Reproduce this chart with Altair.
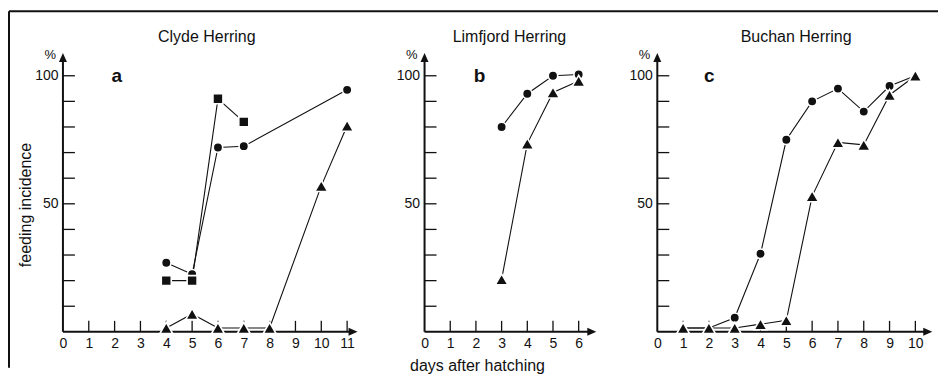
import altair as alt
import pandas as pd

FONT = "Liberation Sans"
INK = "#111111"

# ---------------- data ----------------
# Panel a: Clyde Herring
a_circle_days = [4, 5, 6, 7, 11]
a_circle_vals = [27, 22.5, 72, 72.5, 94.5]
a_square_days = [4, 5, 6, 7]
a_square_vals = [20, 20, 91, 82]
a_tri_days = [4, 5, 6, 7, 8, 10, 11]
a_tri_vals = [1.5, 7, 1.5, 1.5, 1.5, 57, 80.5]

# Panel b: Limfjord Herring
b_circle_days = [3, 4, 5, 6]
b_circle_vals = [80, 93, 100, 100.5]
b_tri_days = [3, 4, 5, 6]
b_tri_vals = [20.5, 73.5, 93.5, 98]

# Panel c: Buchan Herring
c_circle_days = [1, 2, 3, 4, 5, 6, 7, 8, 9, 10]
c_circle_vals = [1.5, 1.5, 5.5, 30.5, 75, 90, 95, 86, 96, 100]
c_circle_hidden = [1, 2, 10]          # markers hidden under the triangles
c_tri_days = [1, 2, 3, 4, 5, 6, 7, 8, 9, 10]
c_tri_vals = [1.5, 1.5, 1.5, 3, 4.5, 53, 74, 73, 92.5, 100]

panel_titles = ["Clyde Herring", "Limfjord Herring", "Buchan Herring"]
panel_letters = ["a", "b", "c"]
x_label_max = [11, 6, 10]
y_labels = [50, 100]
y_minor = [10, 20, 30, 40, 50, 60, 70, 80, 90, 100]
y_title = "feeding incidence"
x_title = "days after hatching"

# ---------------- layout constants ----------------
H = 282
Y_MAX = 110
Y_ARROW = 107.3
SHAPE_SIZE = {"circle": 90, "square": 100, "triangle-up": 165}


def make_panel(width, xmax, arrow_x, tmax, series, title, title_x, letter, letter_x, extras):
    xs = alt.Scale(domain=[0, xmax], nice=False, zero=False)
    ys = alt.Scale(domain=[0, Y_MAX], nice=False, zero=False)
    xaxis = alt.Axis(values=list(range(0, tmax + 1)), domain=False, ticks=False, tickSize=0,
                     grid=False, labelPadding=5, labelFont=FONT, labelFontSize=14,
                     labelColor=INK, title=None, labelFlush=False, labelOverlap=False)
    yaxis = alt.Axis(values=y_labels, domain=False, ticks=False, tickSize=0, grid=False,
                     labelPadding=5, labelFont=FONT, labelFontSize=14, labelColor=INK,
                     title=None, labelOverlap=False)

    def X(f):
        return alt.X(f, type="quantitative", scale=xs, axis=xaxis)

    def Y(f):
        return alt.Y(f, type="quantitative", scale=ys, axis=yaxis)

    ux = xmax / width      # data units per pixel
    uy = Y_MAX / H

    axes_df = pd.DataFrame({"x": [0, 0], "x2": [arrow_x, 0], "y": [0, 0], "y2": [0, Y_ARROW]})
    axes = alt.Chart(axes_df).mark_rule(color=INK, strokeWidth=2).encode(
        x=X("x"), x2="x2:Q", y=Y("y"), y2="y2:Q")

    # arrow heads at the ends of both axes, drawn as small filled areas
    arrow_r_df = pd.DataFrame({"ax": [arrow_x - 5 * ux, arrow_x + 4 * ux],
                               "lo": [-4 * uy, 0], "hi": [4 * uy, 0]})
    arrow_r = alt.Chart(arrow_r_df).mark_area(color=INK, opacity=1, strokeWidth=0).encode(
        x=X("ax"), y=Y("lo"), y2="hi:Q")
    arrow_u_df = pd.DataFrame({"ay": [Y_ARROW - 5 * uy, Y_ARROW + 4 * uy],
                               "lo": [-4 * ux, 0], "hi": [4 * ux, 0]})
    arrow_u = alt.Chart(arrow_u_df).mark_area(color=INK, opacity=1, strokeWidth=0,
                                              orient="horizontal").encode(
        y=Y("ay"), x=X("lo"), x2="hi:Q")

    tx = list(range(1, tmax + 1))
    ticks_df = pd.DataFrame({
        "x": tx + [0] * len(y_minor),
        "x2": tx + [12 * ux] * len(y_minor),
        "y": [0] * len(tx) + y_minor,
        "y2": [11 * uy] * len(tx) + y_minor,
    })
    ticks = alt.Chart(ticks_df).mark_rule(color=INK, strokeWidth=1.3).encode(
        x=X("x"), x2="x2:Q", y=Y("y"), y2="y2:Q")

    layers = [axes, ticks, arrow_r, arrow_u]
    point_layers = []
    for days, vals, shape, hidden in series:
        df = pd.DataFrame({"day": days, "val": vals})
        layers.append(alt.Chart(df).mark_line(color=INK, strokeWidth=1.1).encode(
            x=X("day"), y=Y("val")))
        pdf = df[~df["day"].isin(hidden)]
        point_layers.append(alt.Chart(pdf).mark_point(
            filled=True, shape=shape, size=SHAPE_SIZE[shape], opacity=1, fill=INK,
            stroke="white", strokeWidth=1.6).encode(x=X("day"), y=Y("val")))
    layers += point_layers

    title_layer = alt.Chart(pd.DataFrame({"t": [title]})).mark_text(
        font=FONT, fontSize=16, color=INK, align="center", baseline="alphabetic").encode(
        x=alt.value(title_x), y=alt.value(-8), text="t:N")
    letter_layer = alt.Chart(pd.DataFrame({"t": [letter]})).mark_text(
        font=FONT, fontSize=19, fontWeight="bold", color=INK, align="center",
        baseline="alphabetic").encode(x=alt.value(letter_x), y=alt.value(32), text="t:N")
    pct_layer = alt.Chart(pd.DataFrame({"t": ["%"]})).mark_text(
        font=FONT, fontSize=13, color=INK, align="right", baseline="alphabetic").encode(
        x=alt.value(-7), y=alt.value(9), text="t:N")
    layers += [title_layer, letter_layer, pct_layer] + extras

    return alt.layer(*layers).properties(width=width, height=H)


# frame and shared axis titles
frame_top = alt.Chart(pd.DataFrame({"k": ["top"]})).mark_rule(color=INK, strokeWidth=2).encode(
    x=alt.value(-54), x2=alt.value(876), y=alt.value(-39))
frame_left = alt.Chart(pd.DataFrame({"k": ["left"]})).mark_rule(color=INK, strokeWidth=2).encode(
    x=alt.value(-54), y=alt.value(-39), y2=alt.value(318))
ytitle_layer = alt.Chart(pd.DataFrame({"t": [y_title]})).mark_text(
    font=FONT, fontSize=16, color=INK, align="center", baseline="alphabetic", angle=270).encode(
    x=alt.value(-32), y=alt.value(155), text="t:N")
xtitle_layer = alt.Chart(pd.DataFrame({"t": [x_title]})).mark_text(
    font=FONT, fontSize=16, color=INK, align="center", baseline="alphabetic").encode(
    x=alt.value(53), y=alt.value(321), text="t:N")

panel_a = make_panel(
    300, 11.6, 11.25, x_label_max[0],
    [(a_circle_days, a_circle_vals, "circle", []),
     (a_square_days, a_square_vals, "square", []),
     (a_tri_days, a_tri_vals, "triangle-up", [])],
    panel_titles[0], 144, panel_letters[0], 54,
    [frame_top, frame_left, ytitle_layer])

panel_b = make_panel(
    171, 6.65, 6.53, x_label_max[1],
    [(b_circle_days, b_circle_vals, "circle", []),
     (b_tri_days, b_tri_vals, "triangle-up", [])],
    panel_titles[1], 85, panel_letters[1], 55,
    [xtitle_layer])

panel_c = make_panel(
    279, 10.8, 10.5, x_label_max[2],
    [(c_circle_days, c_circle_vals, "circle", c_circle_hidden),
     (c_tri_days, c_tri_vals, "triangle-up", [])],
    panel_titles[2], 139, panel_letters[2], 52,
    [])

chart = alt.hconcat(panel_a, panel_b, panel_c, spacing=62, bounds="flush").properties(
    padding={"left": 0, "top": 2, "right": 0, "bottom": 0},
    background="white",
).configure_view(strokeWidth=0)

chart.save("out.html", embed_options={"renderer": "svg", "actions": False})
